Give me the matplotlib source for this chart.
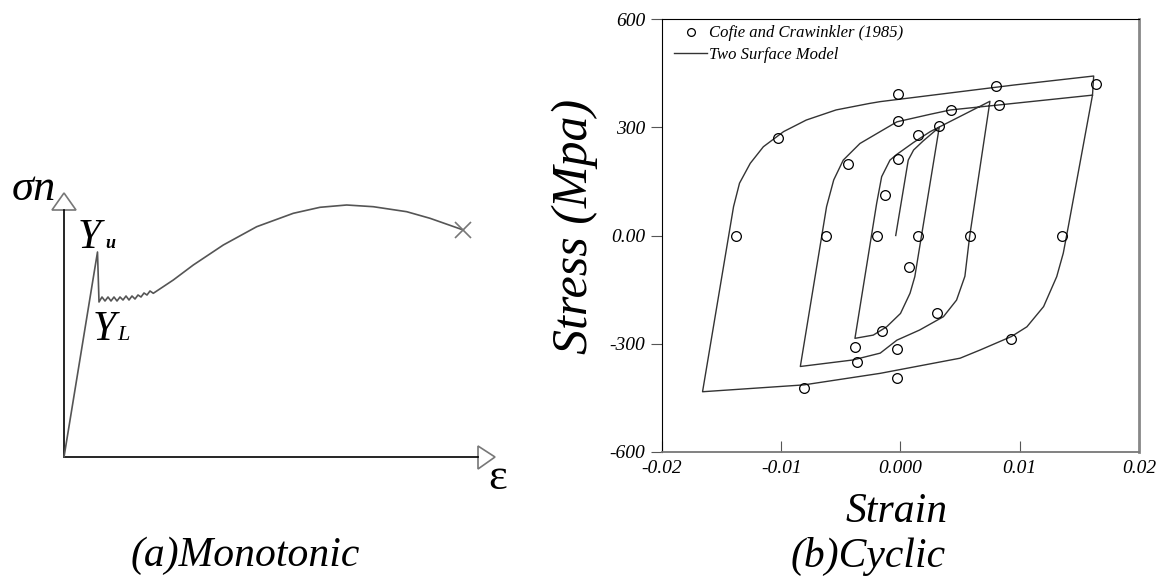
import matplotlib.pyplot as plt
from matplotlib.patches import Polygon

plt.rcParams['font.family'] = ['Liberation Serif', 'DejaVu Serif']
plt.rcParams['axes.unicode_minus'] = False

# (a) schematic monotonic curve (arbitrary units)
mono_strain = [0, 33.5, 35, 38, 41, 44, 47, 50, 53, 56, 59, 62, 65, 68, 71, 74, 77, 80, 83, 86,
               89.3, 109.3, 129.3, 159.3, 192.7, 229.3, 256, 282.7, 309.3, 342.7, 366, 399.3]
mono_stress = [0, 205, 155, 160, 156, 160, 156, 160, 156, 160, 157, 161, 157, 161, 158, 162, 160, 164, 162, 166,
               163.7, 177, 192, 212, 230.3, 243.7, 249.7, 252, 250.3, 245.3, 238.7, 227]

# (b) test data, Cofie and Crawinkler (1985)
test_strain = [-0.0138, -0.01025, -0.0002, 0.00798, 0.0164, -0.00443, -0.0002, 0.00421, 0.00826,
               -0.00625, -0.00127, -0.0002, 0.00149, 0.00325, -0.00195, 0.00149, 0.00074, -0.00158,
               -0.00382, -0.00367, -0.0003, 0.00304, 0.00583, -0.0003, -0.00812, 0.00927, 0.01357]
test_stress = [0, 269, 391, 414, 420, 197, 317, 348, 362,
               0, 112, 211, 279, 303, 0, 0, -86, -265,
               -308, -351, -314, -216, 0, -396, -423, -288, 0]

# two surface model path
model_strain = [-0.0004, 0.00065, 0.0011, 0.0019, 0.00325,
                0.0012, 0.0008, 0.0, -0.00116, -0.00228, -0.00382,
                -0.002, -0.00158, -0.00088, -0.0003, 0.0011, 0.0025, 0.0047, 0.0075,
                0.0058, 0.0054, 0.0047, 0.0036, 0.0016, -0.0003, -0.0017, -0.0040, -0.0084,
                -0.0062, -0.0056, -0.0048, -0.0034, -0.0017, -0.0003, 0.0025, 0.0042, 0.0083, 0.0161,
                0.01407, 0.01365, 0.0131, 0.0120, 0.0106, 0.0093, 0.0067, 0.0050, -0.0017, -0.0081, -0.0166,
                -0.0140, -0.0135, -0.0126, -0.0115, -0.0098, -0.0079, -0.0054, -0.0026, -0.0017, 0.0039, 0.0095, 0.0162,
                0.0161]
model_stress = [0, 209, 237, 262, 300,
                -114, -160, -216, -253, -276, -285,
                89, 163, 209, 225, 258, 288, 325, 372,
                -2, -113, -179, -225, -262, -290, -326, -345, -363,
                80, 154, 209, 255, 288, 315, 336, 348, 362, 389,
                24.5, -49, -114, -197, -253, -280, -317, -340, -382, -414, -433,
                80, 145, 200, 246, 288, 320, 348, 366, 371, 394, 417, 442,
                389]

x_ticks = [-0.02, -0.01, 0.0, 0.01, 0.02]
x_tick_labels = ['-0.02', '-0.01', '0.000', '0.01', '0.02']
y_ticks = [600, 300, 0, -300, -600]
y_tick_labels = ['600', '300', '0.00', '-300', '-600']

W, H = 1159, 576
fig = plt.figure(figsize=(W / 100, H / 100), dpi=100)

# ---- (a) monotonic sketch ----
ax1 = fig.add_axes([0, 0, 0.5, 1])
ax1.set_xlim(-64, 515.5)
ax1.set_ylim(-119, 457)
ax1.axis('off')

ax1.plot([0, 0], [0, 247], color='black', lw=1.2)
ax1.plot([0, 414], [0, 0], color='black', lw=1.2)
ax1.add_patch(Polygon([[-12, 247], [12, 247], [0, 264]], closed=True, fc='white', ec='#777777', lw=1.2))
ax1.add_patch(Polygon([[414, -12], [414, 11], [431, 0]], closed=True, fc='white', ec='#777777', lw=1.2))

ax1.plot(mono_strain, mono_stress, color='#555555', lw=1.2)
ax1.plot(mono_strain[-1], mono_stress[-1], marker='x', markersize=12, color='#777777', mew=1.2)

ax1.text(-52, 257, 'σn', fontsize=32, style='italic', ha='left', va='baseline')
ax1.text(14, 209, 'Y', fontsize=30, style='italic', ha='left', va='baseline')
ax1.text(41, 209, 'u', fontsize=13, style='italic', weight='bold', ha='left', va='baseline')
ax1.text(29, 117, 'Y', fontsize=30, style='italic', ha='left', va='baseline')
ax1.text(53, 117, 'L', fontsize=16, style='italic', ha='left', va='baseline')
ax1.text(424, -32, 'ε', fontsize=32, ha='left', va='baseline')
ax1.text(181, -99, '(a)Monotonic', fontsize=30, style='italic', ha='center', va='center')

# ---- (b) cyclic ----
ax2 = fig.add_axes([662 / W, 1 - 452 / H, 477 / W, 433 / H])
ax2.plot(model_strain, model_stress, color='#333333', lw=1.0, label='Two Surface Model')
ax2.plot(test_strain, test_stress, ls='none', marker='o', markersize=7, mfc='none',
         mec='black', mew=0.9, label='Cofie and Crawinkler (1985)')
ax2.set_xlim(-0.02, 0.02)
ax2.set_ylim(-600, 600)
ax2.set_xticks(x_ticks)
ax2.set_xticklabels(x_tick_labels)
ax2.set_yticks(y_ticks)
ax2.set_yticklabels(y_tick_labels)
ax2.tick_params(axis='x', direction='in', length=8, pad=6, labelsize=14, color='#555555')
ax2.tick_params(axis='y', direction='out', length=8, pad=4, labelsize=14, color='#555555')
for lab in ax2.get_xticklabels() + ax2.get_yticklabels():
    lab.set_style('italic')
ax2.spines['left'].set_color('black')
ax2.spines['top'].set_color('black')
ax2.spines['right'].set_color('#888888')
ax2.spines['right'].set_linewidth(2)
ax2.spines['bottom'].set_color('#777777')
ax2.spines['bottom'].set_linewidth(1.3)

handles, labels = ax2.get_legend_handles_labels()
ax2.legend(handles[::-1], labels[::-1], loc='upper left', bbox_to_anchor=(0.025, 0.985),
           frameon=False, borderpad=0, borderaxespad=0, labelspacing=0.35, markerscale=0.8,
           handlelength=2.0, handletextpad=0.1, prop={'style': 'italic', 'size': 12})

fig.text(897 / W, 1 - 512 / H, 'Strain', fontsize=30, style='italic', ha='center', va='center')
fig.text(575 / W, 1 - 226 / H, 'Stress (Mpa)', fontsize=36, style='italic', rotation=90,
         ha='center', va='center')
fig.text(868 / W, 1 - 556 / H, '(b)Cyclic', fontsize=30, style='italic', ha='center', va='center')

fig.savefig('out.png', dpi=100)
